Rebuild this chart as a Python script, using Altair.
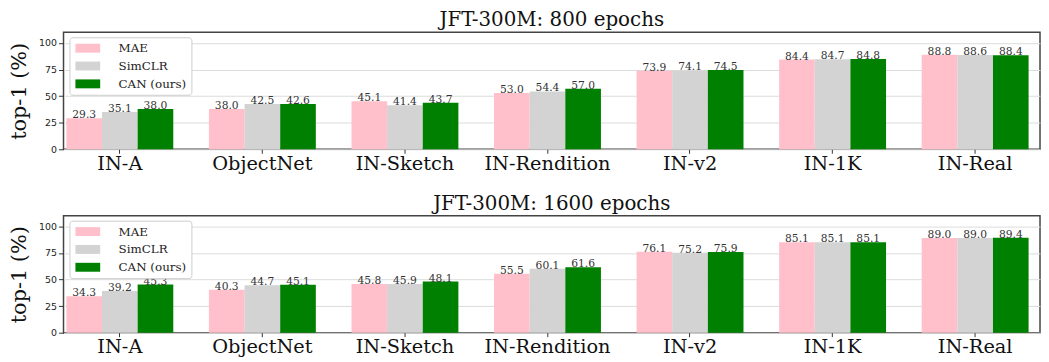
import altair as alt
import pandas as pd

datasets = ["IN-A", "ObjectNet", "IN-Sketch", "IN-Rendition", "IN-v2", "IN-1K", "IN-Real"]
methods = ["MAE", "SimCLR", "CAN (ours)"]
colors = ["#FFC0CB", "#D3D3D3", "#008000"]

mae_800 = [29.3, 38.0, 45.1, 53.0, 73.9, 84.4, 88.8]
simclr_800 = [35.1, 42.5, 41.4, 54.4, 74.1, 84.7, 88.6]
can_800 = [38.0, 42.6, 43.7, 57.0, 74.5, 84.8, 88.4]

mae_1600 = [34.3, 40.3, 45.8, 55.5, 76.1, 85.1, 89.0]
simclr_1600 = [39.2, 44.7, 45.9, 60.1, 75.2, 85.1, 89.0]
can_1600 = [45.3, 45.1, 48.1, 61.6, 75.9, 85.1, 89.4]

y_ticks = [0, 25, 50, 75, 100]


def make_df(series):
    rows = []
    for m, vals in zip(methods, series):
        for d, v in zip(datasets, vals):
            rows.append({"dataset": d, "method": m, "value": v})
    return pd.DataFrame(rows)


def panel(series, title, height, title_offset):
    df = make_df(series)
    base = alt.Chart(df).encode(
        x=alt.X("dataset:N", sort=datasets,
                scale=alt.Scale(paddingInner=0.25, paddingOuter=0.05, align=0.2),
                axis=alt.Axis(title=None, labelAngle=0, labelFont="DejaVu Serif",
                              labelFontSize=19.5, labelColor="#111", tickSize=4,
                              tickColor="#333", domain=False, grid=False,
                              labelPadding=1)),
        xOffset=alt.XOffset("method:N", sort=methods,
                            scale=alt.Scale(paddingInner=0, paddingOuter=0)),
        y=alt.Y("value:Q", scale=alt.Scale(domain=[0, 110], nice=False),
                axis=alt.Axis(title="top-1 (%)", values=y_ticks, labelFont="DejaVu Sans",
                              labelFontSize=9.5, labelColor="#222", tickSize=5,
                              tickColor="#333", domain=False, gridColor="#dcdcdc",
                              gridWidth=1, labelPadding=2, labelOverlap=False,
                              titleFont="DejaVu Serif", titleFontSize=21,
                              titleFontWeight="normal", titleColor="#111",
                              titlePadding=9)),
    )
    bars = base.mark_bar().encode(
        color=alt.Color("method:N", sort=methods,
                        scale=alt.Scale(domain=methods, range=colors),
                        legend=alt.Legend(title=None, orient="none", legendX=6, legendY=5,
                                          labelFont="DejaVu Serif", labelFontSize=12,
                                          labelColor="#222",
                                          symbolType="M-2.5,-0.9H2.5V0.9H-2.5Z",
                                          symbolSize=100, symbolStrokeWidth=0,
                                          symbolOffset=7.5,
                                          fillColor="white", strokeColor="#cccccc",
                                          cornerRadius=3, padding=5, rowPadding=6,
                                          labelOffset=25)),
    )
    labels = base.mark_text(baseline="alphabetic", dy=0, font="DejaVu Serif",
                            fontSize=10.8, color="#333").encode(
        text=alt.Text("value:Q", format=".1f"),
    )
    return alt.layer(bars, labels).properties(
        width=985, height=height,
        title=alt.TitleParams(title, font="DejaVu Serif", fontSize=20,
                              fontWeight="normal", color="#111", offset=title_offset,
                              anchor="middle", frame="group"),
    )


top = panel([mae_800, simclr_800, can_800], "JFT-300M: 800 epochs", 118, 2)
bottom = panel([mae_1600, simclr_1600, can_1600], "JFT-300M: 1600 epochs", 118, 2)

chart = alt.vconcat(top, bottom, spacing=19).properties(
    padding={"left": 0, "top": 0, "right": 0, "bottom": 0}
).configure_view(stroke="#444444", strokeWidth=1.5).resolve_scale(color="independent")

chart.save("out.html", embed_options={"renderer": "svg", "actions": False})
